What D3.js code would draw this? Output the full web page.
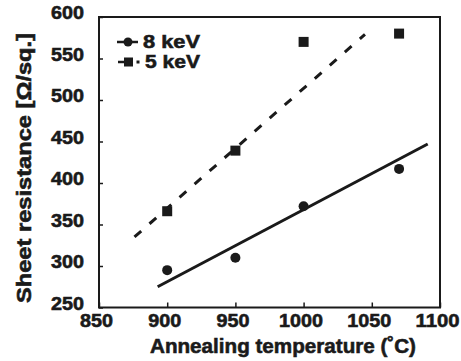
<!DOCTYPE html>
<html><head><meta charset="utf-8">
<script src="https://cdn.jsdelivr.net/npm/d3@7"></script>
<style>
body{margin:0;background:#fff;}
svg{display:block;}
text{font-family:"Liberation Sans",Arial,sans-serif;font-weight:bold;fill:#1a1a1a;stroke:#1a1a1a;stroke-width:0.6px;}
</style></head>
<body><svg id="c" width="461" height="361"></svg>
<script>
const temps = [900, 950, 1000, 1070];
const res8keV = [295, 310, 372, 417];
const res5keV = [366, 439, 570, 580];
const fit8keVX = [893, 1091];
const fit8keVY = [275, 447];
const fit5keVX = [876, 1045];
const fit5keVY = [335, 579];
const xTicks = [850, 900, 950, 1000, 1050, 1100];
const yTicks = [250, 300, 350, 400, 450, 500, 550, 600];
const seriesNames = ["8 keV", "5 keV"];

const svg = d3.select("#c");
const ink = "#1a1a1a";
const L = 99, R = 440, T = 17, B = 307.5;
const x = d3.scaleLinear().domain([850, 1100]).range([L, R]);
const y = d3.scaleLinear().domain([250, 600]).range([B, T]);

// frame
svg.append("rect").attr("x", L).attr("y", T).attr("width", R - L).attr("height", B - T)
  .attr("fill", "none").attr("stroke", ink).attr("stroke-width", 2);

const widen = sel => sel.attr("textLength", function () { return this.textContent.length * 11; })
  .attr("lengthAdjust", "spacingAndGlyphs");

// axes with inward ticks
const xAxis = svg.append("g").attr("transform", `translate(0,${B})`)
  .call(d3.axisBottom(x).tickValues(xTicks).tickSize(-5).tickPadding(6).tickFormat(d3.format("d")));
xAxis.select(".domain").remove();
xAxis.selectAll("line").attr("stroke", ink).attr("stroke-width", 1.5);
xAxis.selectAll("text").attr("font-size", 19).attr("dx", -3).attr("fill", ink).call(widen);

const yAxis = svg.append("g").attr("transform", `translate(${L},0)`)
  .call(d3.axisLeft(y).tickValues(yTicks).tickSize(-4).tickPadding(15).tickFormat(d3.format("d")));
yAxis.select(".domain").remove();
yAxis.selectAll("line").attr("stroke", ink).attr("stroke-width", 1.5);
yAxis.selectAll("text").attr("font-size", 19).attr("dy", "0.1em").attr("fill", ink).call(widen);

// fit lines
const line = d3.line().x(d => x(d[0])).y(d => y(d[1]));
svg.append("path").datum(d3.zip(fit8keVX, fit8keVY)).attr("d", line)
  .attr("stroke", ink).attr("stroke-width", 3).attr("fill", "none");
svg.append("path").datum(d3.zip(fit5keVX, fit5keVY)).attr("d", line)
  .attr("stroke", ink).attr("stroke-width", 3).attr("fill", "none")
  .attr("stroke-dasharray", "9,11");

// markers
svg.selectAll("circle.p8").data(d3.zip(temps, res8keV)).join("circle")
  .attr("cx", d => x(d[0])).attr("cy", d => y(d[1])).attr("r", 5).attr("fill", ink);
svg.selectAll("rect.p5").data(d3.zip(temps, res5keV)).join("rect")
  .attr("x", d => x(d[0]) - 5).attr("y", d => y(d[1]) - 5).attr("width", 10).attr("height", 10).attr("fill", ink);

// legend
const lg = svg.append("g");
lg.append("line").attr("x1", 117).attr("x2", 138).attr("y1", 42).attr("y2", 42).attr("stroke", ink).attr("stroke-width", 2.5);
lg.append("circle").attr("cx", 128).attr("cy", 42).attr("r", 4.5).attr("fill", ink);
lg.append("text").attr("x", 143).attr("y", 48).attr("font-size", 19)
  .attr("textLength", 57).attr("lengthAdjust", "spacingAndGlyphs").text(seriesNames[0]);
lg.append("line").attr("x1", 118).attr("x2", 125).attr("y1", 62).attr("y2", 62).attr("stroke", ink).attr("stroke-width", 2.5);
lg.append("rect").attr("x", 124).attr("y", 57.5).attr("width", 9).attr("height", 9).attr("fill", ink);
lg.append("rect").attr("x", 136.5).attr("y", 60.5).attr("width", 3).attr("height", 3).attr("fill", ink);
lg.append("text").attr("x", 145).attr("y", 68).attr("font-size", 19)
  .attr("textLength", 55).attr("lengthAdjust", "spacingAndGlyphs").text(seriesNames[1]);

// axis titles
svg.append("text").attr("x", 150).attr("y", 353).attr("font-size", 21)
  .attr("textLength", 266).attr("lengthAdjust", "spacingAndGlyphs")
  .text("Annealing temperature (˚C)");
svg.append("text").attr("transform", "translate(31,303) rotate(-90)")
  .attr("font-size", 21).attr("textLength", 270).attr("lengthAdjust", "spacingAndGlyphs")
  .text("Sheet resistance [Ω/sq.]");
</script></body></html>
